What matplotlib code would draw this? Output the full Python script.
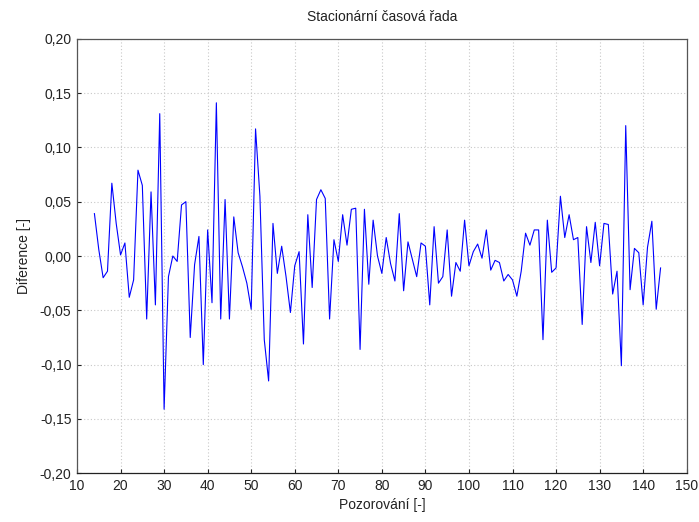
import matplotlib
matplotlib.use("Agg")
import matplotlib.pyplot as plt
from matplotlib.ticker import FuncFormatter, MultipleLocator

plt.rcParams['font.family'] = ['Liberation Sans', 'DejaVu Sans']

# observation index
obs = list(range(14, 145))

# differenced series
diff = [
    0.039, 0.006, -0.020, -0.014, 0.067, 0.030, 0.001, 0.012, -0.038, -0.022,   # 14-23
    0.079, 0.065, -0.058, 0.059, -0.045, 0.131, -0.141, -0.019, 0.000, -0.005,  # 24-33
    0.047, 0.050, -0.075, -0.008, 0.018, -0.100, 0.024, -0.043, 0.141, -0.058,  # 34-43
    0.052, -0.058, 0.036, 0.003, -0.010, -0.025, -0.049, 0.117, 0.055, -0.077,  # 44-53
    -0.115, 0.030, -0.016, 0.009, -0.019, -0.052, -0.009, 0.004, -0.081, 0.038, # 54-63
    -0.029, 0.052, 0.061, 0.053, -0.058, 0.015, -0.005, 0.038, 0.010, 0.043,   # 64-73
    0.044, -0.086, 0.043, -0.026, 0.033, 0.000, -0.016, 0.017, -0.007, -0.023,  # 74-83
    0.039, -0.032, 0.013, -0.003, -0.019, 0.012, 0.009, -0.045, 0.027, -0.025,  # 84-93
    -0.019, 0.024, -0.037, -0.006, -0.014, 0.033, -0.009, 0.004, 0.011, -0.002, # 94-103
    0.024, -0.013, -0.004, -0.006, -0.023, -0.017, -0.022, -0.037, -0.014, 0.021, # 104-113
    0.010, 0.024, 0.024, -0.077, 0.033, -0.015, -0.011, 0.055, 0.017, 0.038,   # 114-123
    0.015, 0.017, -0.063, 0.027, -0.006, 0.031, -0.009, 0.030, 0.029, -0.035,  # 124-133
    -0.014, -0.101, 0.120, -0.031, 0.007, 0.003, -0.045, 0.008, 0.032, -0.049, # 134-143
    -0.011,                                                                      # 144
]

xticks = [10, 20, 30, 40, 50, 60, 70, 80, 90, 100, 110, 120, 130, 140, 150]

fig = plt.figure(figsize=(6.99, 5.22), dpi=100)
ax = fig.add_axes([77 / 699, 1 - 473.3 / 522, (686.7 - 77) / 699, (473.3 - 38.7) / 522])

ax.plot(obs, diff, color='#0000ff', linewidth=0.8)

ax.set_xlim(10, 150)
ax.set_ylim(-0.20, 0.20)
ax.set_xticks(xticks)
ax.yaxis.set_major_locator(MultipleLocator(0.05))
ax.yaxis.set_major_formatter(FuncFormatter(lambda v, p: f"{v:.2f}".replace('.', ',').replace('-0,00', '0,00')))

ax.grid(True, color='#c8c8c8', linestyle=(0, (1, 2)), linewidth=0.8)
ax.tick_params(direction='in', length=3, labelsize=10, colors='#222222', pad=4)
for s in ax.spines.values():
    s.set_color('#555555')
    s.set_linewidth(0.9)
ax.spines['bottom'].set_color('#222222')

ax.set_title('Stacionární časová řada', fontsize=10, pad=13, color='#222222')
ax.set_xlabel('Pozorování [-]', fontsize=10, labelpad=4, color='#222222')
ax.set_ylabel('Diference [-]', fontsize=10, labelpad=6, color='#222222')

fig.savefig('out.png', dpi=100)
